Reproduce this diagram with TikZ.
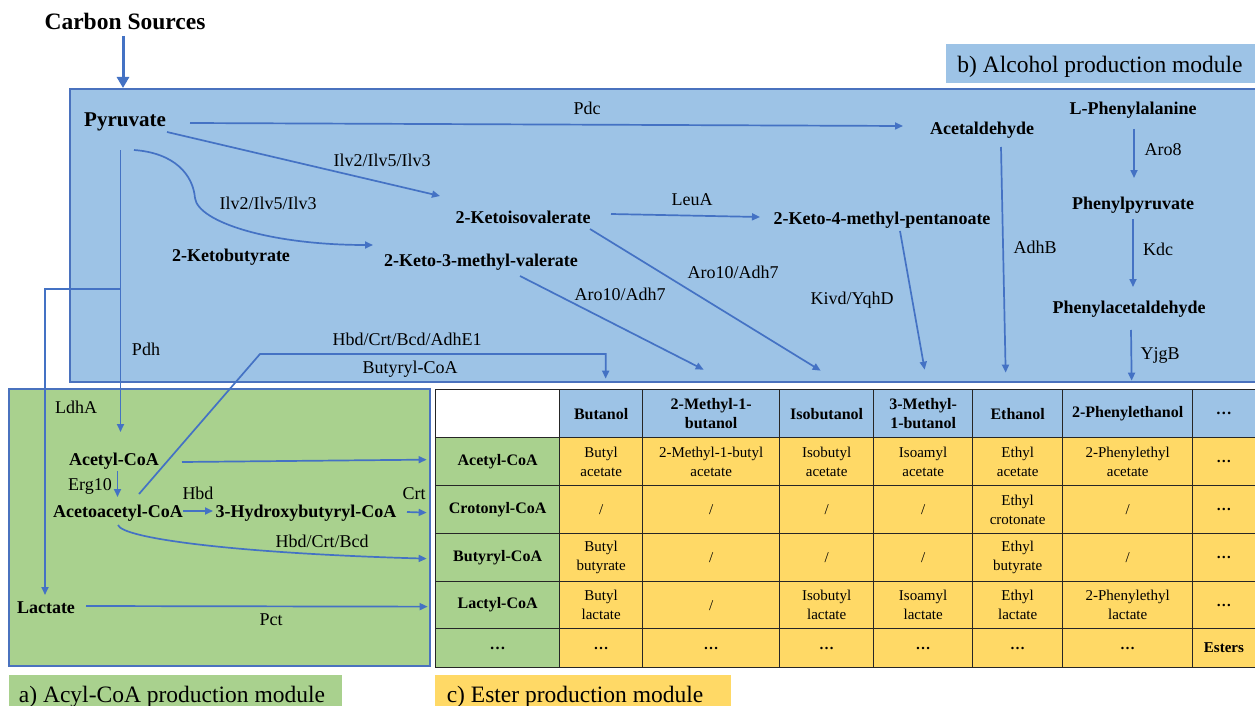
\documentclass[tikz,border=0pt]{standalone}
\usepackage{fontspec}
\setmainfont{Liberation Serif}
\usetikzlibrary{arrows.meta,calc}
\definecolor{bfill}{HTML}{9DC3E6}
\definecolor{gfill}{HTML}{A9D18E}
\definecolor{yfill}{HTML}{FFD966}
\definecolor{lblue}{HTML}{4472C4}
\definecolor{bord}{HTML}{4A72BE}
\newcommand\tc[7]{\node[cellbase,#6,minimum width=#4pt,minimum height=#5pt] (#1) at (#2,#3) {#7};}
\begin{document}
\begin{tikzpicture}[x=1pt,y=-1pt,
  arr/.style={draw=lblue,line width=1.7pt,-{Triangle[length=8pt,width=7pt]}},
  bigarr/.style={draw=lblue,line width=3pt,-{Triangle[length=11pt,width=12pt]}},
  lab/.style={font=\fontsize{18}{21}\selectfont,inner sep=1pt,text height=12pt,text depth=0pt},
  met/.style={font=\fontsize{18}{21}\selectfont\bfseries,inner sep=1pt,text height=12pt,text depth=0pt},
  modlab/.style={font=\fontsize{23.5}{27}\selectfont,inner sep=1pt,text height=15.5pt,text depth=0pt},
  cellbase/.style={draw=black!85,line width=1.3pt,anchor=north west,inner sep=0pt,align=center},
  hd/.style={fill=bfill,font=\fontsize{16}{19}\selectfont\bfseries},
  rh/.style={fill=gfill,font=\fontsize{16}{19}\selectfont\bfseries},
  dc/.style={fill=yfill,font=\fontsize{15}{19}\selectfont},
  wc/.style={fill=white}]
\useasboundingbox (0,0) rectangle (1255,706);
\clip (0,0) rectangle (1255,706);
% module boxes
\filldraw[fill=bfill,draw=bord,line width=1.5pt] (70,89) rectangle (1262,382);
\fill[bfill] (946,44) rectangle (1255,83);
\filldraw[fill=gfill,draw=bord,line width=1.5pt] (9,389) rectangle (430,666);
\fill[gfill] (9,675) rectangle (342,712);
\fill[yfill] (435,675) rectangle (731,712);
\node[modlab] (labB) at (1100,65) {b) Alcohol production module};
\node[modlab] (labA) at (172,695) {a) Acyl-CoA production module};
\node[modlab] (labC) at (575,695) {c) Ester production module};
% metabolites
\node[font=\fontsize{23.5}{27}\selectfont\bfseries,inner sep=1pt,text height=15.5pt,text depth=0pt] (carbon) at (125,22) {Carbon Sources};
\node[font=\fontsize{21}{25}\selectfont\bfseries,inner sep=1pt,text height=14pt,text depth=0pt] (pyr) at (125,120) {Pyruvate};
\node[met] (acetald) at (982,129) {Acetaldehyde};
\node[met] (lphe) at (1133,108) {L-Phenylalanine};
\node[met] (phpyr) at (1133,203) {Phenylpyruvate};
\node[met] (phacet) at (1129,307) {Phenylacetaldehyde};
\node[met] (kiv) at (523,217) {2-Ketoisovalerate};
\node[met] (kbut) at (231,255) {2-Ketobutyrate};
\node[met] (k3mv) at (481,260) {2-Keto-3-methyl-valerate};
\node[met] (k4mp) at (882,218) {2-Keto-4-methyl-pentanoate};
\node[met] (acoa) at (114,459) {Acetyl-CoA};
\node[met] (aacoa) at (118,511) {Acetoacetyl-CoA};
\node[met] (hbcoa) at (306,511) {3-Hydroxybutyryl-CoA};
\node[met] (lact) at (46,607) {Lactate};
% enzyme labels
\node[lab] (lPdc) at (587,108) {Pdc};
\node[lab] (lIlvA) at (382,160) {Ilv2/Ilv5/Ilv3};
\node[lab] (lIlvB) at (268,203) {Ilv2/Ilv5/Ilv3};
\node[lab] (lLeuA) at (692,199) {LeuA};
\node[lab] (lAroA) at (733,272) {Aro10/Adh7};
\node[lab] (lAroB) at (620,294) {Aro10/Adh7};
\node[lab] (lKivd) at (852,298) {Kivd/YqhD};
\node[lab] (lAdhB) at (1035,247) {AdhB};
\node[lab] (lAro8) at (1163,149) {Aro8};
\node[lab] (lKdc) at (1158,249) {Kdc};
\node[lab] (lYjgB) at (1160,353) {YjgB};
\node[lab] (lPdh) at (146,349) {Pdh};
\node[lab] (lLdhA) at (76,407) {LdhA};
\node[lab] (lHbdAll) at (407,339) {Hbd/Crt/Bcd/AdhE1};
\node[lab] (lButCoA) at (410,367) {Butyryl-CoA};
\node[lab] (lErg) at (90,484) {Erg10};
\node[lab] (lHbd) at (198,493) {Hbd};
\node[lab] (lCrt) at (414,493) {Crt};
\node[lab] (lHCB) at (322,541) {Hbd/Crt/Bcd};
\node[lab] (lPct) at (271,619) {Pct};
% table
\tc{h0}{435}{389}{124}{48}{wc}{}
\tc{hBut}{559}{389}{83}{48}{hd}{Butanol}
\tc{hMB}{642}{389}{137}{48}{hd}{2-Methyl-1-\\butanol}
\tc{hIso}{779}{389}{94}{48}{hd}{Isobutanol}
\tc{h3MB}{873}{389}{99}{48}{hd}{3-Methyl-\\1-butanol}
\tc{hEth}{972}{389}{90}{48}{hd}{Ethanol}
\tc{hPhe}{1062}{389}{130}{48}{hd}{2-Phenylethanol}
\tc{hDots}{1192}{389}{62.5}{48}{hd}{…}
%
\tc{rAc}{435}{437}{124}{48}{rh}{Acetyl-CoA}
\tc{a1}{559}{437}{83}{48}{dc}{Butyl\\acetate}
\tc{a2}{642}{437}{137}{48}{dc}{2-Methyl-1-butyl\\acetate}
\tc{a3}{779}{437}{94}{48}{dc}{Isobutyl\\acetate}
\tc{a4}{873}{437}{99}{48}{dc}{Isoamyl\\acetate}
\tc{a5}{972}{437}{90}{48}{dc}{Ethyl\\acetate}
\tc{a6}{1062}{437}{130}{48}{dc}{2-Phenylethyl\\acetate}
\tc{a7}{1192}{437}{62.5}{48}{dc}{\textbf{…}}
%
\tc{rCr}{435}{485}{124}{48}{rh}{Crotonyl-CoA}
\tc{c1}{559}{485}{83}{48}{dc}{/}
\tc{c2}{642}{485}{137}{48}{dc}{/}
\tc{c3}{779}{485}{94}{48}{dc}{/}
\tc{c4}{873}{485}{99}{48}{dc}{/}
\tc{c5}{972}{485}{90}{48}{dc}{Ethyl\\crotonate}
\tc{c6}{1062}{485}{130}{48}{dc}{/}
\tc{c7}{1192}{485}{62.5}{48}{dc}{\textbf{…}}
%
\tc{rBu}{435}{533}{124}{48}{rh}{Butyryl-CoA}
\tc{b1}{559}{533}{83}{48}{dc}{Butyl\\butyrate}
\tc{b2}{642}{533}{137}{48}{dc}{/}
\tc{b3}{779}{533}{94}{48}{dc}{/}
\tc{b4}{873}{533}{99}{48}{dc}{/}
\tc{b5}{972}{533}{90}{48}{dc}{Ethyl\\butyrate}
\tc{b6}{1062}{533}{130}{48}{dc}{/}
\tc{b7}{1192}{533}{62.5}{48}{dc}{\textbf{…}}
%
\tc{rLa}{435}{581}{124}{47}{rh}{Lactyl-CoA}
\tc{l1}{559}{581}{83}{47}{dc}{Butyl\\lactate}
\tc{l2}{642}{581}{137}{47}{dc}{/}
\tc{l3}{779}{581}{94}{47}{dc}{Isobutyl\\lactate}
\tc{l4}{873}{581}{99}{47}{dc}{Isoamyl\\lactate}
\tc{l5}{972}{581}{90}{47}{dc}{Ethyl\\lactate}
\tc{l6}{1062}{581}{130}{47}{dc}{2-Phenylethyl\\lactate}
\tc{l7}{1192}{581}{62.5}{47}{dc}{\textbf{…}}
%
\tc{rDots}{435}{628}{124}{39}{rh}{…}
\tc{d1}{559}{628}{83}{39}{dc}{\textbf{…}}
\tc{d2}{642}{628}{137}{39}{dc}{\textbf{…}}
\tc{d3}{779}{628}{94}{39}{dc}{\textbf{…}}
\tc{d4}{873}{628}{99}{39}{dc}{\textbf{…}}
\tc{d5}{972}{628}{90}{39}{dc}{\textbf{…}}
\tc{d6}{1062}{628}{130}{39}{dc}{\textbf{…}}
\tc{d7}{1192}{628}{62.5}{39}{dc}{\textbf{Esters}}
% connectors
\draw[bigarr] ($(carbon)+(-2,14)$) -- ($(pyr)+(-2,-32)$);
\draw[arr] ($(pyr)+(65,3)$) -- ($(acetald)+(-79,-3)$);
\draw[arr] ($(pyr)+(42,12)$) -- ($(kiv)+(-83,-21)$);
\draw[arr] ($(pyr)+(9,30)$) .. controls (175,153) and (193,175) .. (195,198)
  .. controls (198,222) and (270,245) .. ($(k3mv)+(-108,-15)$);
\draw[arr] ($(kiv)+(88,-3)$) -- ($(k4mp)+(-122,-1)$);
\draw[arr] ($(kiv)+(67,12)$) -- ($(hIso.center)+(-6,-43)$);
\draw[arr] ($(k3mv)+(39,16)$) -- ($(hMB.center)+(-7.5,-44)$);
\draw[arr] ($(k4mp)+(18,13)$) -- ($(h3MB.center)+(1.5,-44)$);
\draw[arr] ($(acetald)+(19,18)$) -- ($(hEth.center)+(-12,-41)$);
\draw[arr] ($(lphe)+(1,21)$) -- ($(phpyr)+(1,-25)$);
\draw[arr] ($(phpyr)+(0,16)$) -- ($(phacet)+(4,-20)$);
\draw[arr] ($(phacet)+(2,23)$) -- ($(hPhe.center)+(4,-33)$);
\draw[arr] ($(pyr)+(-4.5,30)$) coordinate (vtop) -- ($(acoa)+(6.5,-27)$);
\coordinate (br) at ($(vtop)+(0,139)$);
\draw[arr] (br) -| ($(lact)+(-1,-12)$);
\draw[arr] ($(acoa)+(68,3)$) -- ($(rAc.center)+(-71,-2)$);
\draw[arr] ($(acoa)+(3.5,12)$) -- ($(aacoa)+(-0.5,-14)$);
\draw[arr] ($(aacoa)+(65,0)$) -- ($(hbcoa)+(-93,0)$);
\draw[arr] ($(hbcoa)+(101,1)$) -- ($(rCr.center)+(-71,3)$);
\draw[arr] ($(aacoa)+(0,14)$) .. controls (122,538) and (230,553) .. ($(rBu.center)+(-71,1)$);
\draw[arr] ($(lact)+(40,-1)$) -- ($(rLa.center)+(-70,1.5)$);
\coordinate (bk) at (260,354);
\draw[arr] ($(aacoa)+(21,-17)$) -- (bk) -| ($(hBut.center)+(4.5,-35)$);
\end{tikzpicture}
\end{document}
